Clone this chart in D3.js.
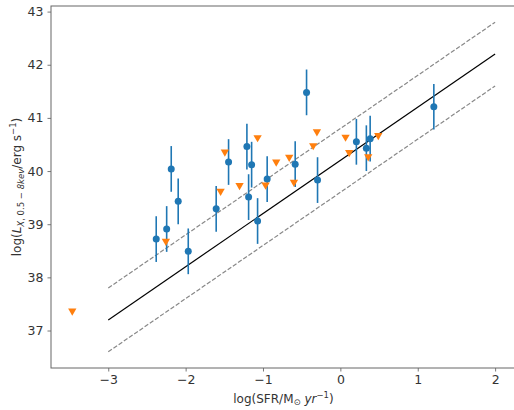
<!DOCTYPE html>
<html>
<head>
<meta charset="utf-8">
<script src="https://cdn.jsdelivr.net/npm/d3@7"></script>
<style>
  body { margin: 0; background: #fff; }
  svg text { font-family: 'DejaVu Sans', sans-serif; fill: #333; }
</style>
</head>
<body>
<svg id="chart" width="514" height="410"></svg>
<script>
'use strict';

// detections with error bars: log SFR, log Lx, error
const detX = [-2.38, -2.245, -2.186, -2.096, -1.966, -1.605, -1.445, -1.208, -1.186,
  -1.147, -1.07, -0.946, -0.437, -0.584, -0.295, 0.207, 0.336, 0.385, 1.208];
const detY = [38.72, 38.91, 40.04, 39.43, 38.49, 39.29, 40.17, 40.46, 39.51,
  40.12, 39.06, 39.85, 41.48, 40.13, 39.83, 40.55, 40.43, 40.61, 41.21];
const detErr = [0.43, 0.43, 0.43, 0.43, 0.43, 0.43, 0.43, 0.43, 0.43,
  0.43, 0.43, 0.43, 0.43, 0.43, 0.43, 0.43, 0.43, 0.43, 0.43];

// upper limits
const limX = [-3.465, -2.255, -1.548, -1.493, -1.303, -1.07, -0.967, -0.829,
  -0.661, -0.6, -0.351, -0.303, 0.067, 0.114, 0.36, 0.49];
const limY = [37.37, 38.68, 39.62, 40.36, 39.73, 40.63, 39.74, 40.17,
  40.26, 39.79, 40.48, 40.74, 40.64, 40.35, 40.27, 40.67];

// relation: log Lx = log SFR + 40.2, scatter 0.6 dex
const relX = [-3, 2];
const relIntercept = 40.2;
const relScatter = 0.6;

const xTicks = [-3, -2, -1, 0, 1, 2];
const yTicks = [37, 38, 39, 40, 41, 42, 43];

const margin = { top: 6, right: -2, bottom: 42, left: 51 };
const width = 514;
const height = 410;

const svg = d3.select('#chart');

const x = d3.scaleLinear()
  .domain([-3.74, 2.27])
  .range([margin.left, width - margin.right]);
const y = d3.scaleLinear()
  .domain([36.295, 43.105])
  .range([height - margin.bottom, margin.top]);

const g = svg.append('g');

// relation lines
const line = d3.line()
  .x(function(d) { return x(d[0]); })
  .y(function(d) { return y(d[1]); });

[-relScatter, relScatter].forEach(function(off) {
  g.append('path')
    .datum(relX.map(function(v) { return [v, v + relIntercept + off]; }))
    .attr('d', line)
    .attr('fill', 'none')
    .attr('stroke', '#888')
    .attr('stroke-width', 1.2)
    .attr('stroke-dasharray', '4.4,1.9');
});

g.append('path')
  .datum(relX.map(function(v) { return [v, v + relIntercept]; }))
  .attr('d', line)
  .attr('fill', 'none')
  .attr('stroke', '#000')
  .attr('stroke-width', 1.2);

// error bars
const det = detX.map(function(v, i) {
  return { x: v, y: detY[i], e: detErr[i] };
});

g.selectAll('.ebar')
  .data(det)
  .enter()
  .append('line')
  .attr('class', 'ebar')
  .attr('x1', function(d) { return x(d.x); })
  .attr('x2', function(d) { return x(d.x); })
  .attr('y1', function(d) { return y(d.y - d.e); })
  .attr('y2', function(d) { return y(d.y + d.e); })
  .attr('stroke', '#1f77b4')
  .attr('stroke-width', 1.6);

g.selectAll('.det')
  .data(det)
  .enter()
  .append('circle')
  .attr('class', 'det')
  .attr('cx', function(d) { return x(d.x); })
  .attr('cy', function(d) { return y(d.y); })
  .attr('r', 3.5)
  .attr('fill', '#1f77b4');

// upper limits as down triangles
const tri = d3.symbol().type(d3.symbolTriangle).size(30);
g.selectAll('.lim')
  .data(limX.map(function(v, i) { return { x: v, y: limY[i] }; }))
  .enter()
  .append('path')
  .attr('class', 'lim')
  .attr('d', tri)
  .attr('transform', function(d) {
    return 'translate(' + x(d.x) + ',' + y(d.y) + ') rotate(180)';
  })
  .attr('fill', '#ff7f0e');

// axes
const xAxis = svg.append('g')
  .attr('transform', 'translate(0,' + (height - margin.bottom) + ')')
  .call(d3.axisBottom(x).tickValues(xTicks).tickSize(3.5).tickPadding(4)
    .tickFormat(function(d) { return d < 0 ? '\u2212' + Math.abs(d) : d; }));
const yAxis = svg.append('g')
  .attr('transform', 'translate(' + margin.left + ',0)')
  .call(d3.axisLeft(y).tickValues(yTicks).tickSize(3.5).tickPadding(4)
    .tickFormat(d3.format('d')));

[xAxis, yAxis].forEach(function(a) {
  a.select('.domain').remove();
  a.selectAll('line').attr('stroke', '#555').attr('stroke-width', 0.8);
  a.selectAll('text').attr('font-size', 12.5).attr('fill', '#333')
    .style('font-family', "'DejaVu Sans', sans-serif");
});

// spines
svg.append('rect')
  .attr('x', x.range()[0])
  .attr('y', margin.top)
  .attr('width', x.range()[1] - x.range()[0])
  .attr('height', height - margin.bottom - margin.top)
  .attr('fill', 'none')
  .attr('stroke', '#666')
  .attr('stroke-width', 1);

// axis labels
const xl = svg.append('text')
  .attr('x', (x.range()[0] + x.range()[1]) / 2)
  .attr('y', 403)
  .attr('text-anchor', 'middle')
  .attr('font-size', 12);
xl.append('tspan').text('log(SFR/M');
xl.append('tspan').attr('font-size', 8.5).attr('dy', 2).text('\u2299');
xl.append('tspan').attr('dy', -2).text(' ');
xl.append('tspan').attr('font-style', 'italic').text('yr');
xl.append('tspan').attr('font-size', 8.5).attr('dy', -5).text('\u22121');
xl.append('tspan').attr('dy', 5).text(')');

const yc = (margin.top + height - margin.bottom) / 2;
const yl = svg.append('text')
  .attr('transform', 'translate(21,' + yc + ') rotate(-90)')
  .attr('text-anchor', 'middle')
  .attr('font-size', 12);
yl.append('tspan').text('log(');
yl.append('tspan').attr('font-style', 'italic').text('L');
yl.append('tspan').attr('font-size', 8.5).attr('dy', 2.5).attr('font-style', 'italic').text('X');
yl.append('tspan').attr('font-size', 8.5).text(', 0.5 \u2212 ');
yl.append('tspan').attr('font-size', 8.5).attr('font-style', 'italic').text('8kev');
yl.append('tspan').attr('dy', -2.5).text('/erg s');
yl.append('tspan').attr('font-size', 8.5).attr('dy', -5).text('\u22121');
yl.append('tspan').attr('dy', 5).text(')');
</script>
</body>
</html>
